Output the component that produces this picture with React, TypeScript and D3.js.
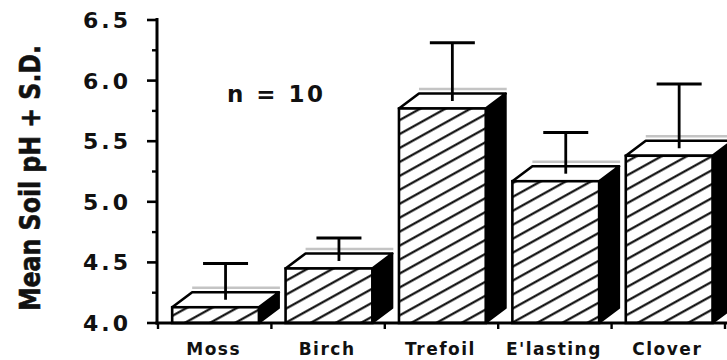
import React from "react";
import * as d3 from "d3";

const categories = ["Moss", "Birch", "Trefoil", "E'lasting", "Clover"];
const means = [4.13, 4.45, 5.77, 5.17, 5.38];
const sds = [0.3, 0.19, 0.48, 0.34, 0.53];
const majorTicks = [4.0, 4.5, 5.0, 5.5, 6.0, 6.5];
const minorTicks = [4.25, 4.75, 5.25, 5.75, 6.25];
const yLabel = "Mean Soil pH + S.D.";
const note = "n = 10";

const W = 727;
const H = 360;
const axisX = 157;
const baseY = 323;
const topY = 20;
const xEnd = 725;
const depthX = 20;
const depthY = 15;

export default function App() {
  const y = d3.scaleLinear().domain([4.0, 6.5]).range([baseY, topY]);
  const x = d3.scaleBand<string>().domain(categories).range([158, xEnd]).padding(0);
  const step = x.step();
  const frontOff = step * 0.125;
  const frontW = step * 0.765;
  const boundaries = [...categories.map((c) => x(c) as number), xEnd];

  return (
    <svg
      width={W}
      height={H}
      style={{ position: "absolute", left: 0, top: 0, display: "block", background: "#fff" }}
    >
      <defs>
        <pattern
          id="hatch"
          patternUnits="userSpaceOnUse"
          width={12}
          height={12.2}
          patternTransform="rotate(-29)"
        >
          <rect width={12} height={12.2} fill="#fff" />
          <line x1={0} x2={12} y1={6} y2={6} stroke="#000" strokeWidth={2.1} />
        </pattern>
      </defs>
      <rect width={W} height={H} fill="#fff" />

      {/* y axis label */}
      <text
        transform={`translate(40, 178) rotate(-90)`}
        textAnchor="middle"
        fontFamily="'Liberation Sans Narrow', 'DejaVu Sans Condensed', 'DejaVu Sans', sans-serif"
        fontWeight="bold"
        fontSize={29}
        textLength={266}
        lengthAdjust="spacingAndGlyphs"
        fill="#111"
        stroke="#111"
        strokeWidth={0.6}
      >
        {yLabel}
      </text>

      {/* y tick labels */}
      {majorTicks.map((t) => (
        <text
          key={t}
          x={131}
          y={y(t) + 8}
          textAnchor="end"
          fontFamily="'DejaVu Sans', sans-serif"
          fontWeight="bold"
          fontSize={22}
          letterSpacing={3}
          fill="#111"
        >
          {t.toFixed(1)}
        </text>
      ))}

      {/* bars */}
      {categories.map((c, i) => {
        const x0 = (x(c) as number) + frontOff;
        const x1 = x0 + frontW;
        const yt = y(means[i]);
        const ex = x0 + frontW / 2 + depthX / 2;
        const eyBase = yt - depthY / 2;
        const eyTop = y(means[i] + sds[i]) - depthY / 2;
        const top = `M${x0},${yt} L${x0 + depthX},${yt - depthY} L${x1 + depthX},${yt - depthY} L${x1},${yt} Z`;
        const side = `M${x1},${yt} L${x1 + depthX},${yt - depthY} L${x1 + depthX},${baseY - depthY} L${x1},${baseY} Z`;
        return (
          <g key={c}>
            <line
              x1={x0 + depthX}
              x2={x1 + depthX + 1}
              y1={yt - depthY - 4.5}
              y2={yt - depthY - 4.5}
              stroke="#c4c4c4"
              strokeWidth={2.5}
            />
            <path d={side} fill="#000" stroke="#000" strokeWidth={2} strokeLinejoin="round" />
            <path d={top} fill="#fff" stroke="#000" strokeWidth={2.6} strokeLinejoin="round" />
            <rect
              x={x0}
              y={yt}
              width={frontW}
              height={baseY - yt}
              fill="url(#hatch)"
              stroke="#000"
              strokeWidth={2.6}
            />
            <line x1={ex} x2={ex} y1={eyBase} y2={eyTop} stroke="#000" strokeWidth={2.8} />
            <line x1={ex - 22.5} x2={ex + 22.5} y1={eyTop} y2={eyTop} stroke="#000" strokeWidth={3} />
          </g>
        );
      })}

      {/* y axis */}
      <line x1={axisX} x2={axisX} y1={topY - 2} y2={baseY + 1.5} stroke="#000" strokeWidth={3} />
      {majorTicks.map((t) => (
        <line key={"M" + t} x1={147} x2={axisX} y1={y(t)} y2={y(t)} stroke="#000" strokeWidth={2.6} />
      ))}
      {minorTicks.map((t) => (
        <line key={"m" + t} x1={152} x2={axisX} y1={y(t)} y2={y(t)} stroke="#000" strokeWidth={2.4} />
      ))}

      {/* x axis */}
      <line x1={axisX - 1.5} x2={xEnd + 2} y1={baseY} y2={baseY} stroke="#000" strokeWidth={3} />
      {boundaries.map((b, i) => (
        <line key={"b" + i} x1={b} x2={b} y1={baseY} y2={baseY + 6} stroke="#000" strokeWidth={2.4} />
      ))}

      {/* category labels */}
      {categories.map((c) => (
        <text
          key={"l" + c}
          x={(x(c) as number) + step / 2 - 1}
          y={355}
          textAnchor="middle"
          fontFamily="'DejaVu Sans', sans-serif"
          fontWeight="bold"
          fontSize={17}
          letterSpacing={1.5}
          fill="#111"
        >
          {c}
        </text>
      ))}

      {/* n = 10 */}
      <text
        x={227}
        y={102}
        fontFamily="'DejaVu Sans', sans-serif"
        fontWeight="bold"
        fontSize={23}
        textLength={96}
        lengthAdjust="spacing"
        fill="#111"
      >
        {note}
      </text>
    </svg>
  );
}
